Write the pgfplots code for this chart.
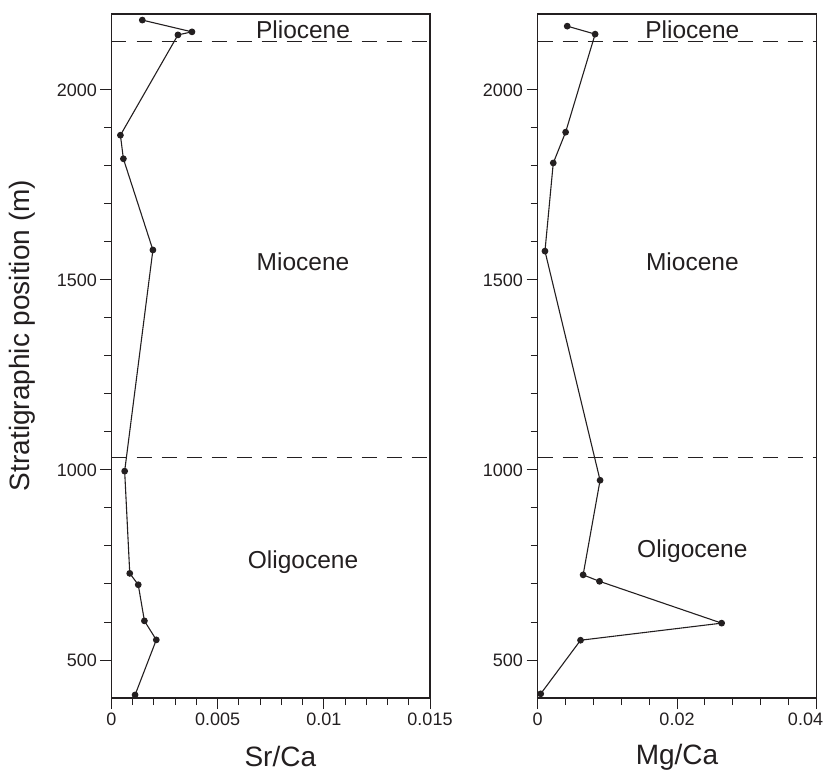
\documentclass[border=0pt]{standalone}
\usepackage{fontspec}
\setmainfont{Liberation Sans}
\usepackage{pgfplots}
\pgfplotsset{compat=1.18}
\definecolor{ink}{RGB}{35,31,32}

\pgfplotsset{
  strat/.style={
    scale only axis,
    height=684pt,
    ymin=400, ymax=2200,
    ytick={500,1000,1500,2000},
    minor y tick num=4,
    minor x tick num=4,
    tick align=outside,
    xtick pos=bottom, ytick pos=left,
    major tick length=11pt, minor tick length=7pt,
    tick style={ink, line width=1pt},
    axis line style={ink, line width=1.6pt},
    tick label style={font=\fontsize{18}{20}\selectfont, text=ink},
    /pgf/number format/assume math mode=true,
    /pgf/number format/1000 sep={},
    scaled x ticks=false,
    xticklabel style={/pgf/number format/fixed, /pgf/number format/precision=3},
    label style={font=\fontsize{28}{30}\selectfont, text=ink},
    clip=false,
  },
  data/.style={ink, line width=1.1pt, mark=*, mark size=2.8pt, mark options={solid, fill=ink}},
  bound/.style={ink, line width=0.9pt, dash pattern=on 15pt off 10pt, forget plot},
}
\tikzset{epoch/.style={font=\fontsize{24.5}{26}\selectfont, text=ink}}

\begin{document}
\begin{tikzpicture}
  \useasboundingbox (0pt,0pt) rectangle (824pt,779pt);

  % Sr/Ca panel
  \begin{axis}[strat,
      at={(111.5pt,81pt)}, anchor=south west,
      width=318.5pt,
      xmin=0, xmax=0.015,
      xtick={0,0.005,0.01,0.015},
      xlabel={Sr/Ca},
      ylabel={Stratigraphic position (m)},
      xlabel style={at={(axis description cs:0.53,-0.086)}, anchor=center},
      ylabel style={at={(axis description cs:-0.28,0.53)}, anchor=center},
    ]
    \addplot[bound] coordinates {(0,2129) (0.015,2129)};
    \addplot[bound] coordinates {(0,1032) (0.015,1032)};
    \addplot[data] coordinates {
      (0.00145,2184) (0.00379,2153) (0.00313,2145) (0.00042,1881)
      (0.00056,1819) (0.00195,1579) (0.00062,997) (0.00086,728)
      (0.00126,698) (0.00155,603) (0.00211,553) (0.00111,408)
    };
    \node[epoch] at (axis cs:0.00902,2158) {Pliocene};
    \node[epoch] at (axis cs:0.00902,1547) {Miocene};
    \node[epoch] at (axis cs:0.00902,758) {Oligocene};
  \end{axis}

  % Mg/Ca panel
  \begin{axis}[strat,
      at={(537.5pt,81pt)}, anchor=south west,
      width=279pt,
      xmin=0, xmax=0.04,
      xtick={0,0.02,0.04},
      xticklabels={0,0.02,{0.04\hspace*{22pt}}},
      xlabel={Mg/Ca},
      xlabel style={at={(axis description cs:0.5,-0.086)}, anchor=center},
    ]
    \addplot[bound] coordinates {(0,2129) (0.04,2129)};
    \addplot[bound] coordinates {(0,1032) (0.04,1032)};
    \addplot[data] coordinates {
      (0.00426,2168) (0.00826,2147) (0.00403,1889) (0.00226,1808)
      (0.00107,1576) (0.00897,973) (0.00654,724) (0.00889,707)
      (0.0264,597) (0.00617,552) (0.00046,411)
    };
    \node[epoch] at (axis cs:0.0222,2158) {Pliocene};
    \node[epoch] at (axis cs:0.0222,1547) {Miocene};
    \node[epoch] at (axis cs:0.0222,787) {Oligocene};
  \end{axis}
\end{tikzpicture}
\end{document}
